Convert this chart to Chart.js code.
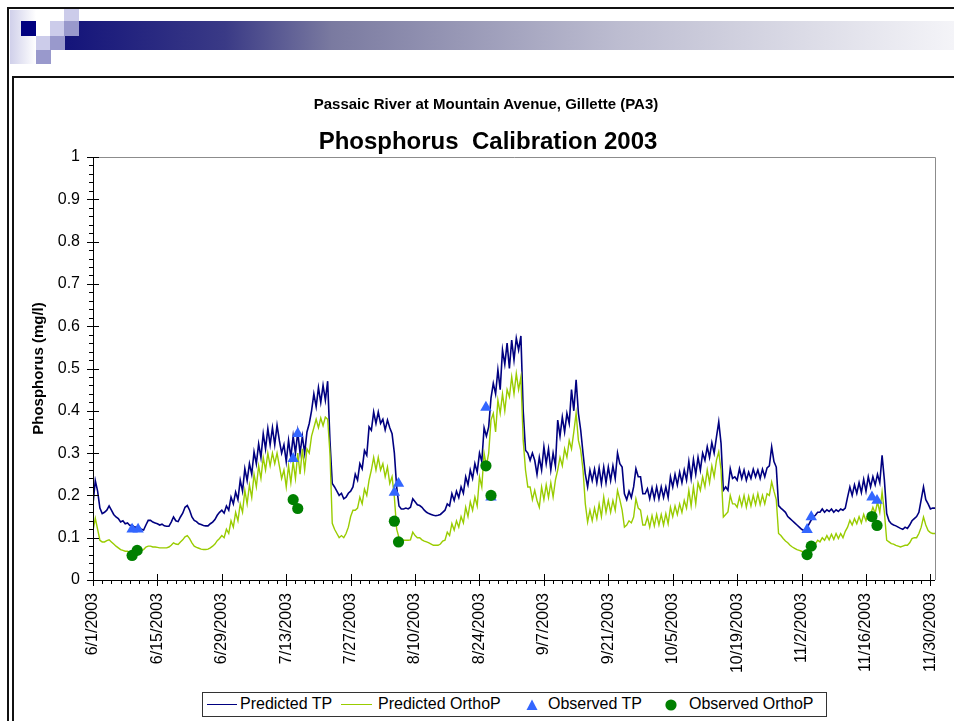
<!DOCTYPE html>
<html>
<head>
<meta charset="utf-8">
<script src="https://cdn.jsdelivr.net/npm/chart.js@4.4.0/dist/chart.umd.min.js"></script>
<style>
  html, body { margin: 0; padding: 0; background: #fff; }
  body { width: 954px; height: 721px; position: relative; overflow: hidden; font-family: "Liberation Sans", Arial, sans-serif; color: #000; }
  .abs { position: absolute; }
  .sq-dark { background: #000080; }
  .sq-mid { background: #9999cc; }
  .sq-light { background: #ccccea; }
  .lg-text { position: absolute; top: 696px; font-size: 16px; line-height: 1; white-space: nowrap; }
  #chart { position: absolute; left: 0; top: 0; }
</style>
</head>
<body>

<!-- slide decoration -->
<div class="abs" style="left:10px;top:10px;width:26px;height:54px;background:linear-gradient(to right,#d0d0ea,#ffffff)"></div>
<div class="abs" style="left:65px;top:21px;width:889px;height:29px;background:linear-gradient(to right,#14147a 0%,#3a3a86 18%,#7a7aa0 30%,#bcbcd0 62%,#f4f4f8 100%)"></div>
<div class="abs sq-light" style="left:64px;top:9px;width:15px;height:12px"></div>
<div class="abs sq-dark" style="left:21px;top:21px;width:15px;height:15px"></div>
<div class="abs sq-light" style="left:50px;top:21px;width:14px;height:15px"></div>
<div class="abs sq-mid" style="left:64px;top:21px;width:15px;height:15px"></div>
<div class="abs sq-light" style="left:36px;top:36px;width:14px;height:14px"></div>
<div class="abs sq-mid" style="left:50px;top:36px;width:15px;height:14px"></div>
<div class="abs sq-mid" style="left:36px;top:50px;width:15px;height:14px"></div>
<div class="abs" style="left:7px;top:7px;width:960px;height:730px;border-top:2px solid #111;border-left:2px solid #111"></div>
<div class="abs" style="left:12px;top:76px;width:960px;height:700px;border-top:2px solid #111;border-left:2px solid #111"></div>

<canvas id="chart" width="954" height="721"></canvas>

<!-- titles -->
<div class="abs" style="left:486px;top:96px;transform:translateX(-50%);font-size:15px;font-weight:bold;line-height:1;white-space:nowrap">Passaic River at Mountain Avenue, Gillette (PA3)</div>
<div class="abs" style="left:488px;top:129px;transform:translateX(-50%);font-size:24px;font-weight:bold;line-height:1;white-space:nowrap">Phosphorus&nbsp; Calibration 2003</div>

<!-- legend -->
<div class="abs" style="left:202px;top:692px;width:623px;height:23px;border:1.5px solid #333;background:#fff"></div>
<div class="abs" style="left:207px;top:704px;width:30px;border-top:1.5px solid #000080"></div>
<div class="lg-text" style="left:240px">Predicted TP</div>
<div class="abs" style="left:341px;top:704px;width:31px;border-top:1.5px solid #99cc00"></div>
<div class="lg-text" style="left:378px">Predicted OrthoP</div>
<svg class="abs" style="left:526px;top:699px" width="12" height="12"><polygon points="6,0.5 11.5,11 0.5,11" fill="#3366ff"/></svg>
<div class="lg-text" style="left:548px">Observed TP</div>
<svg class="abs" style="left:665px;top:699px" width="12" height="12"><circle cx="6" cy="6" r="5.6" fill="#008000"/></svg>
<div class="lg-text" style="left:689px">Observed OrthoP</div>

<script>
// half-day model output, starting 6/1/2003 00:00
const stepDays = 0.5;

const tpPred = [
  0.18,0.235, 0.21,0.17, 0.157,0.16, 0.165,0.175, 0.165,0.155, 0.149,0.145, 0.137,0.14,
  0.133,0.135, 0.129,0.13, 0.125,0.125, 0.125,0.12, 0.118,0.13, 0.141,0.141, 0.137,0.135,
  0.133,0.13, 0.132,0.128, 0.127,0.127, 0.137,0.149, 0.14,0.138, 0.149,0.158, 0.172,0.176,
  0.165,0.149, 0.141,0.138, 0.133,0.131, 0.129,0.128, 0.128,0.133, 0.137,0.143, 0.153,0.16,
  0.165,0.158, 0.175,0.165, 0.196,0.18, 0.208,0.19, 0.236,0.21, 0.263,0.235, 0.275,0.25,
  0.303,0.275, 0.322,0.29, 0.346,0.31, 0.358,0.32, 0.36,0.32, 0.366,0.33, 0.30,0.32,
  0.28,0.33, 0.29,0.34, 0.30,0.35, 0.30,0.34, 0.30,0.35, 0.37,0.40, 0.44,0.41,
  0.455,0.42, 0.46,0.425, 0.47,0.33, 0.228,0.22, 0.21,0.20, 0.205,0.192, 0.196,0.205,
  0.21,0.22, 0.25,0.236, 0.275,0.263, 0.306,0.295, 0.362,0.354, 0.397,0.37, 0.397,0.37,
  0.38,0.355, 0.378,0.36, 0.346,0.30, 0.22,0.175, 0.168,0.168, 0.17,0.168, 0.172,0.192,
  0.185,0.178, 0.176,0.172, 0.165,0.16, 0.157,0.155, 0.153,0.152, 0.153,0.155, 0.16,0.165,
  0.18,0.175, 0.204,0.188, 0.21,0.195, 0.22,0.205, 0.244,0.225, 0.26,0.24, 0.275,0.255,
  0.30,0.28, 0.36,0.34, 0.362,0.43, 0.465,0.44, 0.497,0.45, 0.544,0.51, 0.56,0.50,
  0.567,0.52, 0.572,0.544, 0.577,0.40, 0.307,0.30, 0.283,0.30, 0.283,0.25, 0.29,0.26,
  0.315,0.275, 0.31,0.26, 0.30,0.27, 0.378,0.34, 0.385,0.35, 0.394,0.37, 0.45,0.40,
  0.473,0.394, 0.354,0.30, 0.25,0.22, 0.26,0.235, 0.262,0.23, 0.265,0.228, 0.267,0.23,
  0.267,0.235, 0.27,0.24, 0.30,0.275, 0.267,0.204, 0.19,0.21, 0.195,0.22, 0.263,0.244,
  0.244,0.204, 0.204,0.216, 0.192,0.218, 0.192,0.22, 0.192,0.22, 0.195,0.22, 0.195,0.244,
  0.22,0.25, 0.225,0.255, 0.23,0.26, 0.236,0.28, 0.24,0.285, 0.25,0.29, 0.26,0.30,
  0.283,0.315, 0.29,0.325, 0.30,0.338, 0.374,0.323, 0.212,0.22, 0.212,0.263, 0.24,0.244,
  0.236,0.263, 0.24,0.26, 0.236,0.255, 0.24,0.262, 0.244,0.26, 0.24,0.262, 0.244,0.265,
  0.27,0.315, 0.28,0.267, 0.176,0.17, 0.165,0.16, 0.15,0.145, 0.14,0.135, 0.13,0.125,
  0.12,0.117, 0.12,0.13, 0.14,0.148, 0.153,0.16, 0.16,0.168, 0.16,0.166, 0.162,0.168,
  0.16,0.166, 0.162,0.168, 0.165,0.17, 0.196,0.22, 0.2,0.225, 0.205,0.23, 0.207,0.238,
  0.21,0.244, 0.22,0.244, 0.225,0.25, 0.23,0.295, 0.236,0.157, 0.14,0.133, 0.13,0.128,
  0.125,0.122, 0.12,0.125, 0.122,0.13, 0.14,0.145, 0.15,0.16, 0.19,0.22, 0.19,0.18,
  0.168,0.17, 0.17
];

const opPred = [
  0.117,0.146, 0.12,0.094, 0.09,0.09, 0.093,0.095, 0.09,0.085, 0.08,0.076, 0.072,0.07,
  0.068,0.068, 0.066,0.066, 0.066,0.066, 0.068,0.07, 0.072,0.078, 0.08,0.08, 0.078,0.078,
  0.077,0.076, 0.076,0.076, 0.076,0.078, 0.082,0.088, 0.085,0.084, 0.09,0.095, 0.102,0.105,
  0.098,0.088, 0.08,0.077, 0.075,0.073, 0.072,0.072, 0.073,0.076, 0.08,0.085, 0.093,0.098,
  0.105,0.1, 0.12,0.11, 0.14,0.125, 0.16,0.14, 0.18,0.16, 0.212,0.18, 0.225,0.195,
  0.25,0.22, 0.27,0.24, 0.29,0.26, 0.30,0.27, 0.30,0.275, 0.30,0.27, 0.24,0.26,
  0.22,0.27, 0.23,0.28, 0.24,0.30, 0.25,0.31, 0.26,0.31, 0.30,0.34, 0.36,0.38,
  0.36,0.383, 0.365,0.385, 0.38,0.30, 0.134,0.12, 0.11,0.10, 0.105,0.10, 0.11,0.125,
  0.15,0.165, 0.165,0.17, 0.196,0.18, 0.215,0.20, 0.236,0.26, 0.29,0.26, 0.29,0.26,
  0.275,0.244, 0.267,0.228, 0.244,0.196, 0.12,0.10, 0.094,0.094, 0.094,0.094, 0.095,0.113,
  0.105,0.1, 0.1,0.095, 0.092,0.09, 0.088,0.085, 0.082,0.082, 0.082,0.085, 0.092,0.094,
  0.113,0.105, 0.133,0.118, 0.14,0.125, 0.15,0.135, 0.172,0.15, 0.185,0.165, 0.196,0.175,
  0.244,0.22, 0.30,0.27, 0.30,0.378, 0.394,0.35, 0.425,0.394, 0.44,0.40, 0.45,0.433,
  0.48,0.44, 0.488,0.45, 0.48,0.33, 0.26,0.22, 0.22,0.19, 0.212,0.188, 0.172,0.22,
  0.19,0.225, 0.195,0.23, 0.196,0.236, 0.26,0.29, 0.27,0.31, 0.29,0.33, 0.31,0.35,
  0.394,0.33, 0.307,0.26, 0.18,0.137, 0.165,0.14, 0.17,0.145, 0.18,0.15, 0.196,0.16,
  0.188,0.16, 0.188,0.165, 0.212,0.19, 0.165,0.125, 0.13,0.14, 0.135,0.149, 0.192,0.17,
  0.165,0.13, 0.13,0.149, 0.125,0.152, 0.128,0.155, 0.13,0.155, 0.13,0.157, 0.133,0.172,
  0.15,0.175, 0.155,0.18, 0.16,0.188, 0.17,0.212, 0.175,0.22, 0.18,0.23, 0.212,0.244,
  0.22,0.26, 0.23,0.27, 0.244,0.283, 0.303,0.26, 0.149,0.155, 0.161,0.2, 0.18,0.18,
  0.172,0.196, 0.175,0.2, 0.172,0.198, 0.175,0.2, 0.178,0.204, 0.178,0.2, 0.18,0.204,
  0.2,0.232, 0.21,0.19, 0.11,0.105, 0.098,0.092, 0.088,0.082, 0.078,0.075, 0.072,0.07,
  0.068,0.066, 0.062,0.07, 0.075,0.08, 0.085,0.094, 0.09,0.1, 0.094,0.105, 0.095,0.108,
  0.096,0.11, 0.098,0.11, 0.1,0.115, 0.125,0.141, 0.13,0.145, 0.133,0.15, 0.135,0.155,
  0.14,0.157, 0.155,0.172, 0.158,0.185, 0.16,0.208, 0.16,0.094, 0.09,0.086, 0.085,0.082,
  0.08,0.078, 0.08,0.082, 0.082,0.088, 0.098,0.1, 0.1,0.11, 0.125,0.149, 0.13,0.117,
  0.112,0.11, 0.11
];

// grab samples (days after 6/1/2003)
const obsTpDays = [8.5, 9.8, 43.5, 44.5, 65.5, 66.4, 85.4, 86.5, 155.2, 156.1, 169.3, 170.4];
const obsTpVals = [0.12, 0.12, 0.287, 0.346, 0.207, 0.228, 0.408, 0.196, 0.119, 0.149, 0.196, 0.188];
const obsOpDays = [8.5, 9.6, 43.5, 44.5, 65.5, 66.4, 85.4, 86.5, 155.2, 156.1, 169.3, 170.4];
const obsOpVals = [0.058, 0.07, 0.19, 0.169, 0.139, 0.09, 0.27, 0.2, 0.06, 0.08, 0.15, 0.129];

const tickLabels = ['6/1/2003', '6/15/2003', '6/29/2003', '7/13/2003', '7/27/2003', '8/10/2003', '8/24/2003',
  '9/7/2003', '9/21/2003', '10/5/2003', '10/19/2003', '11/2/2003', '11/16/2003', '11/30/2003'];
const tickStep = 14;

const FONT = '"Liberation Sans", Arial, sans-serif';

// axis lines, major/minor tick marks and the grey plot border (Excel style)
const axisMarks = {
  id: 'axisMarks',
  afterDatasetsDraw(chart) {
    const { ctx, chartArea: a, scales: { x, y } } = chart;
    ctx.save();
    ctx.lineWidth = 1;
    ctx.strokeStyle = '#8c8c8c';
    ctx.beginPath();
    ctx.moveTo(a.left, a.top + 0.5);
    ctx.lineTo(a.right + 0.5, a.top + 0.5);
    ctx.lineTo(a.right + 0.5, a.bottom);
    ctx.stroke();

    ctx.strokeStyle = '#000';
    ctx.beginPath();
    ctx.moveTo(a.left + 0.5, a.top);
    ctx.lineTo(a.left + 0.5, a.bottom + 0.5);
    ctx.lineTo(a.right, a.bottom + 0.5);
    for (let i = 0; i <= 50; i++) {
      const py = Math.round(y.getPixelForValue(i * 0.02)) + 0.5;
      if (i % 5 === 0) { ctx.moveTo(a.left - 6, py); ctx.lineTo(a.left + 6, py); }
      else { ctx.moveTo(a.left - 4, py); ctx.lineTo(a.left, py); }
    }
    for (let d = 0; d <= 182; d += 2) {
      const px = Math.round(x.getPixelForValue(d)) + 0.5;
      if (d % tickStep === 0) { ctx.moveTo(px, a.bottom - 6); ctx.lineTo(px, a.bottom + 6); }
      else { ctx.moveTo(px, a.bottom); ctx.lineTo(px, a.bottom + 4); }
    }
    ctx.stroke();
    ctx.restore();
  }
};

new Chart(document.getElementById('chart'), {
  type: 'line',
  data: {
    datasets: [
      {
        label: 'Observed OrthoP',
        type: 'scatter',
        data: obsOpDays.map((d, i) => ({ x: d, y: obsOpVals[i] })),
        pointStyle: 'circle',
        pointRadius: 5.6,
        backgroundColor: '#008000',
        borderWidth: 0,
        order: 0
      },
      {
        label: 'Observed TP',
        type: 'scatter',
        data: obsTpDays.map((d, i) => ({ x: d, y: obsTpVals[i] })),
        pointStyle: 'triangle',
        pointRadius: 6.6,
        backgroundColor: '#3366ff',
        borderWidth: 0,
        order: 1
      },
      {
        label: 'Predicted OrthoP',
        data: opPred.map((v, i) => ({ x: i * stepDays, y: v })),
        borderColor: '#99cc00',
        borderWidth: 1.4,
        pointRadius: 0,
        tension: 0,
        order: 2
      },
      {
        label: 'Predicted TP',
        data: tpPred.map((v, i) => ({ x: i * stepDays, y: v })),
        borderColor: '#000080',
        borderWidth: 1.6,
        pointRadius: 0,
        tension: 0,
        order: 3
      }
    ]
  },
  options: {
    responsive: false,
    animation: false,
    devicePixelRatio: 1,
    layout: { padding: { left: 30, top: 157, right: 19, bottom: 0 } },
    plugins: {
      legend: { display: false },
      tooltip: { enabled: false }
    },
    scales: {
      x: {
        type: 'linear',
        min: 0,
        max: 183,
        grid: { display: false, drawTicks: false },
        border: { display: false },
        ticks: {
          autoSkip: false,
          minRotation: 90,
          maxRotation: 90,
          padding: 13,
          color: '#000',
          font: { family: FONT, size: 16 },
          callback: (v, i) => tickLabels[i]
        },
        afterBuildTicks: s => { s.ticks = tickLabels.map((l, i) => ({ value: i * tickStep })); },
        afterFit: s => { s.height = 141; s.paddingLeft = 0; s.paddingRight = 0; }
      },
      y: {
        min: 0,
        max: 1,
        grid: { display: false, drawTicks: false },
        border: { display: false },
        ticks: {
          stepSize: 0.1,
          padding: 13,
          color: '#000',
          font: { family: FONT, size: 16 },
          callback: v => String(Math.round(v * 10) / 10)
        },
        title: {
          display: true,
          text: 'Phosphorus (mg/l)',
          color: '#000',
          padding: 0,
          font: { family: FONT, size: 15, weight: 'bold' }
        },
        afterFit: s => { s.width = 63; s.paddingTop = 0; s.paddingBottom = 0; }
      }
    }
  },
  plugins: [axisMarks]
});
</script>
</body>
</html>
